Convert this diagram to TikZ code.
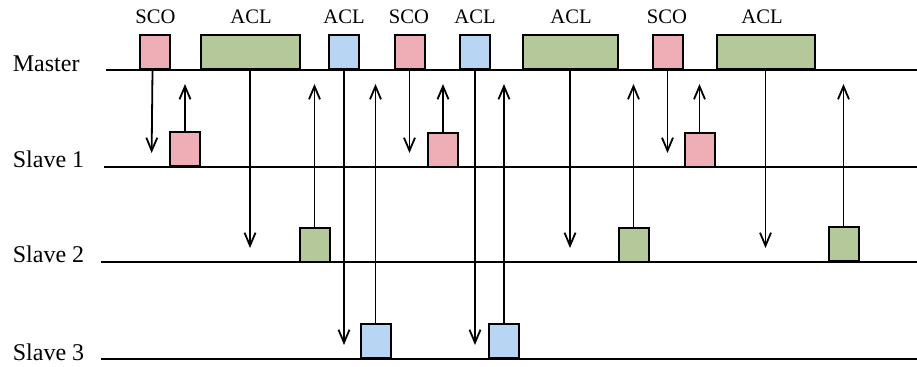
\documentclass[tikz,border=0pt]{standalone}
\usepackage{fontspec}
\setmainfont{Liberation Serif}
\usetikzlibrary{arrows.meta}
\definecolor{scopink}{RGB}{239,174,181}
\definecolor{aclgreen}{RGB}{180,200,153}
\definecolor{aclblue}{RGB}{184,214,243}

\begin{document}
\begin{tikzpicture}[x=0.5pt,y=-0.5pt,>={Straight Barb[length=6.5pt,width=5.5pt]},line width=0.9pt]
  \tikzstyle{pkt}=[rectangle,draw=black,line width=1pt,inner sep=0pt,minimum width=15pt,minimum height=17pt]
  \tikzstyle{sco}=[pkt,fill=scopink]
  \tikzstyle{acl}=[pkt,fill=aclgreen]
  \tikzstyle{aclb}=[pkt,fill=aclblue]
  \tikzstyle{dev}=[anchor=base west,inner sep=0pt,font=\fontsize{12}{14}\selectfont]
  \tikzstyle{kind}=[anchor=base,inner sep=0pt,font=\fontsize{10.3}{12}\selectfont]
  \tikzstyle{msg}=[->,shorten >=7pt]
  \useasboundingbox (0,0) rectangle (917,367);
  % time lines
  \coordinate(m-l) at (106,70);  \coordinate(m-r) at (917,70);
  \coordinate(s1-l) at (104,167); \coordinate(s1-r) at (917,167);
  \coordinate(s2-l) at (101,262); \coordinate(s2-r) at (917,262);
  \coordinate(s3-l) at (101,359); \coordinate(s3-r) at (917,359);
  \draw(m-l)--(m-r);
  \draw(s1-l)--(s1-r);
  \draw(s2-l)--(s2-r);
  \draw(s3-l)--(s3-r);
  \node(master) at (12,72) [dev]{Master};
  \node(slave1) at (12,168) [dev]{Slave 1};
  \node(slave2) at (12,263) [dev]{Slave 2};
  \node(slave3) at (12,361) [dev]{Slave 3};
  % master slots
  \node(sco1) at (154.5,52.5) [sco]{};
  \node(acl1) at (250,52.5) [acl,minimum width=49.5pt]{};
  \node(aclb1) at (344,52.5) [aclb]{};
  \node(sco2) at (409.5,52.5) [sco]{};
  \node(aclb2) at (475,52.5) [aclb]{};
  \node(acl2) at (570,52.5) [acl,minimum width=47.5pt]{};
  \node(sco3) at (667.5,52.5) [sco]{};
  \node(acl3) at (765.5,52.5) [acl,minimum width=49pt]{};
  \node(t-sco1) at (155.5,23.5) [kind]{SCO};
  \node(t-acl1) at (251,23.5) [kind]{ACL};
  \node(t-aclb1) at (344,23.5) [kind]{ACL};
  \node(t-sco2) at (409,23.5) [kind]{SCO};
  \node(t-aclb2) at (475,23.5) [kind]{ACL};
  \node(t-acl2) at (571,23.5) [kind]{ACL};
  \node(t-sco3) at (667,23.5) [kind]{SCO};
  \node(t-acl3) at (762,23.5) [kind]{ACL};
  % slave replies
  \node(r1a) at (185,149.5) [sco]{};
  \node(r1b) at (443,150) [sco]{};
  \node(r1c) at (699.5,150) [sco]{};
  \node(r2a) at (314.5,245) [acl]{};
  \node(r2b) at (633.5,245) [acl]{};
  \node(r2c) at (843.5,244.5) [acl]{};
  \node(r3a) at (375.5,341.5) [aclb]{};
  \node(r3b) at (504,341.5) [aclb]{};
  % master -> slave
  \draw[msg]([xshift=-1pt]sco1.south)--([xshift=-1.5pt]sco1.south |- s1-l);
  \draw[msg](acl1.south)--(acl1.south |- s2-l);
  \draw[msg](aclb1.south)--(aclb1.south |- s3-l);
  \draw[msg](sco2.south)--(sco2.south |- s1-l);
  \draw[msg](aclb2.south)--(aclb2.south |- s3-l);
  \draw[msg](acl2.south)--(acl2.south |- s2-l);
  \draw[msg](sco3.south)--(sco3.south |- s1-l);
  \draw[msg](acl3.south)--(acl3.south |- s2-l);
  % slave -> master
  \draw[msg](r1a.north)--(r1a.north |- m-l);
  \draw[msg](r2a.north)--(r2a.north |- m-l);
  \draw[msg](r3a.north)--(r3a.north |- m-l);
  \draw[msg](r1b.north)--(r1b.north |- m-l);
  \draw[msg](r3b.north)--(r3b.north |- m-l);
  \draw[msg](r2b.north)--(r2b.north |- m-l);
  \draw[msg](r1c.north)--(r1c.north |- m-l);
  \draw[msg](r2c.north)--(r2c.north |- m-l);
\end{tikzpicture}
\end{document}
